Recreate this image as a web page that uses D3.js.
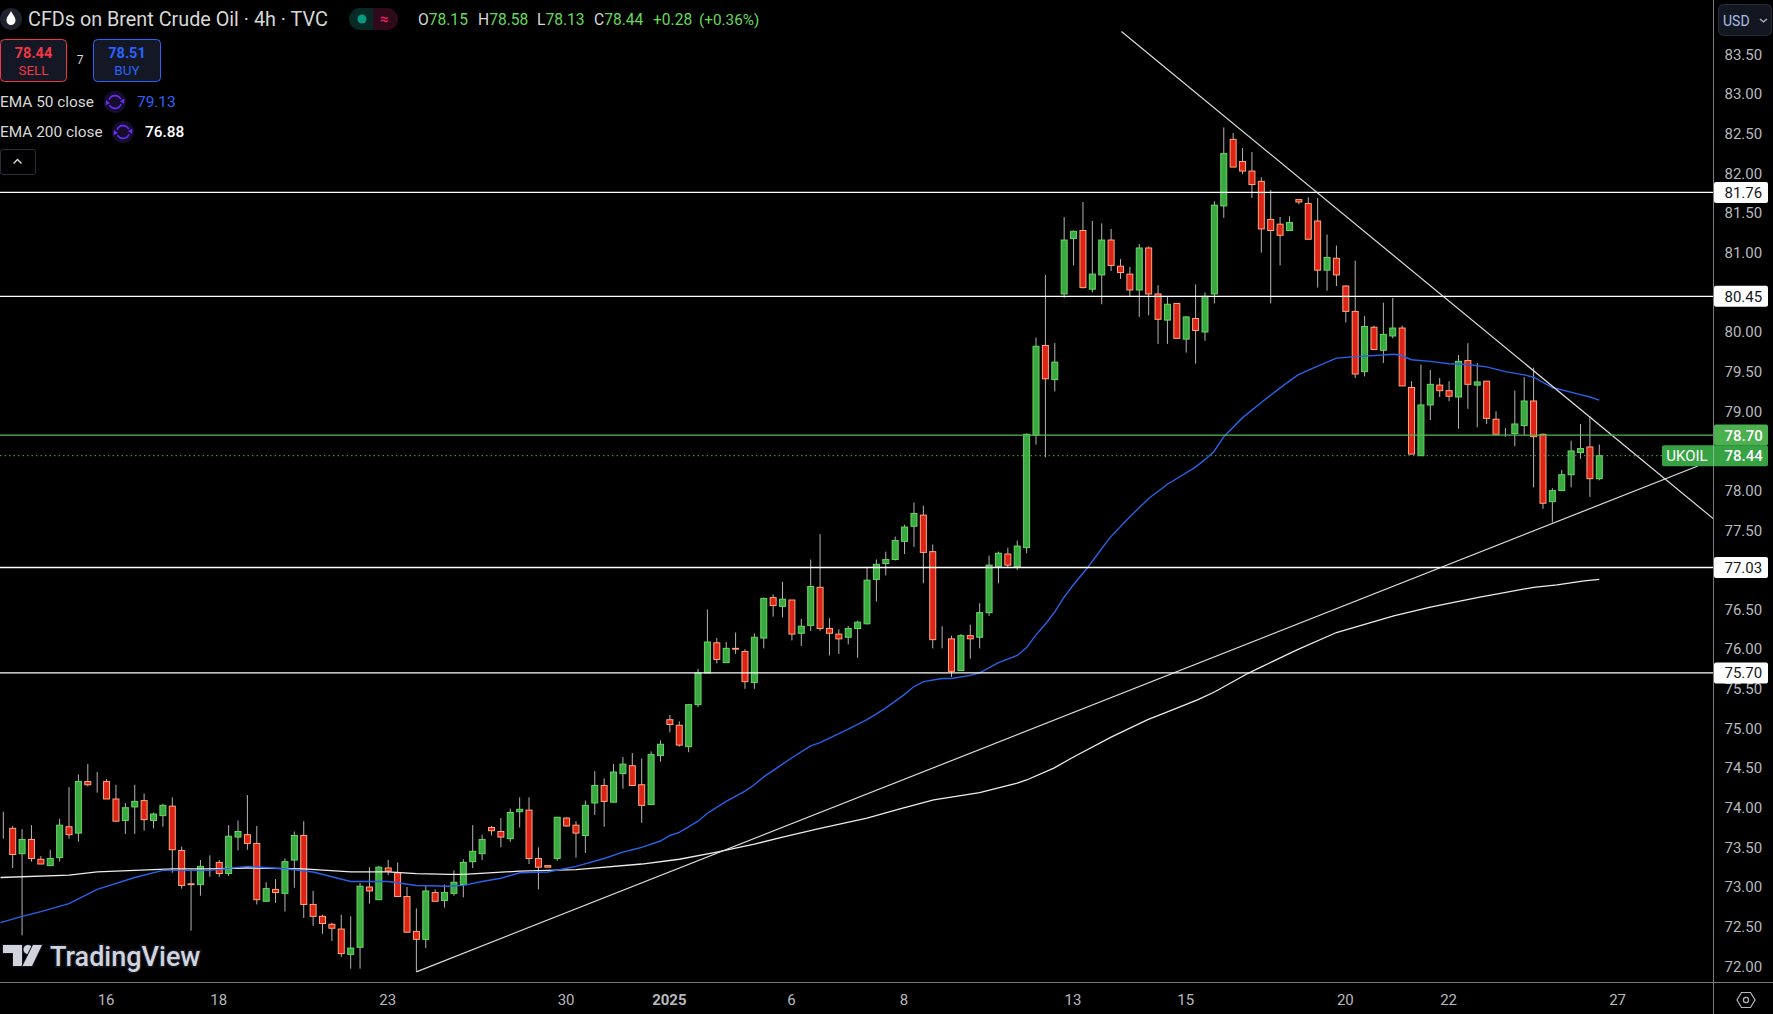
<!DOCTYPE html>
<html>
<head>
<meta charset="utf-8">
<script src="https://cdn.jsdelivr.net/npm/d3@7"></script>
<style>
  html, body { margin: 0; padding: 0; background: #000; overflow: hidden; }
  text { font-family: Roboto, "Noto Sans", sans-serif; }
</style>
</head>
<body>
<div id="chart"></div>
<script>
// candle values, one entry per 4h bar
var opens = [
  73.73,73.74,73.42,73.60,73.35,73.27,73.37,73.76,73.68,74.33,
  74.33,74.33,74.11,73.84,74.01,74.09,73.84,73.90,74.02,73.46,
  73.04,73.03,73.32,73.31,73.17,73.63,73.66,73.55,72.82,72.97,
  72.92,73.34,73.65,72.78,72.63,72.53,72.47,72.15,72.24,73.00,
  72.84,73.24,73.18,72.88,72.44,72.34,72.93,72.83,72.92,73.03,
  73.32,73.42,73.75,73.70,73.61,73.95,73.97,73.36,73.27,73.36,
  73.87,73.78,73.65,74.06,74.28,74.07,74.43,74.53,74.29,74.04,
  74.66,75.11,75.04,74.77,75.30,75.70,76.08,75.83,76.01,75.97,
  75.58,76.14,76.65,76.54,76.62,76.20,76.30,76.78,76.26,76.19,
  76.15,76.26,76.32,76.88,77.08,77.13,77.36,77.55,77.69,77.23,
  76.12,76.13,75.73,76.17,76.15,76.46,77.04,77.20,77.04,77.28,
  78.70,79.83,79.40,80.48,81.18,81.28,80.54,80.72,81.16,80.83,
  80.73,80.53,81.06,80.48,80.15,80.36,79.91,80.17,80.00,80.48,
  81.59,82.43,82.15,82.03,81.90,81.42,81.36,81.28,81.67,81.62,
  81.40,80.78,80.93,80.58,80.26,79.50,80.06,79.77,79.95,80.05,
  79.30,78.44,79.08,79.33,79.26,79.18,79.64,79.33,79.38,78.90,
  78.71,78.72,78.82,79.13,78.71,77.86,78.00,78.20,78.48,78.55,78.15
];
var highs = [
  73.95,73.77,73.73,73.78,73.39,73.47,73.86,74.26,74.42,74.55,
  74.45,74.36,74.29,74.06,74.29,74.18,73.94,74.05,74.13,73.51,
  73.22,73.34,73.40,73.34,73.78,73.84,74.16,73.77,73.06,73.10,
  73.36,73.70,73.83,72.95,72.65,72.55,72.65,72.63,73.05,73.25,
  73.27,73.34,73.31,73.00,72.73,73.01,72.97,73.03,73.21,73.35,
  73.78,73.66,73.77,73.87,73.99,74.13,74.13,73.50,73.27,73.88,
  73.88,73.83,74.09,74.46,74.37,74.55,74.64,74.69,74.62,74.71,
  74.85,75.17,75.09,75.30,75.75,76.50,76.14,76.09,76.21,76.00,
  76.20,76.65,76.69,76.85,76.62,76.38,77.13,77.45,76.39,76.25,
  76.29,76.36,77.04,77.13,77.23,77.42,77.57,77.85,77.81,77.32,
  76.29,76.17,76.19,76.31,76.58,77.18,77.23,77.28,77.37,78.72,
  79.93,80.72,79.86,81.45,81.28,81.64,81.40,81.37,81.30,80.92,
  80.82,81.11,81.08,80.59,80.45,80.36,80.20,80.60,80.50,81.65,
  82.58,82.51,82.32,82.27,81.95,81.79,81.45,81.46,81.67,81.70,
  81.69,81.23,81.09,80.59,80.90,80.20,80.08,80.37,80.43,80.08,
  79.38,79.59,79.52,79.42,79.38,79.71,79.86,79.61,79.38,79.00,
  78.79,79.26,79.43,79.55,78.72,78.03,78.26,78.63,78.84,78.94,78.58
];
var lows = [
  73.61,73.24,72.39,73.32,73.29,73.27,73.32,73.61,73.57,74.27,
  74.19,74.11,73.83,73.67,73.67,73.71,73.74,73.76,73.18,72.98,
  72.45,72.89,73.13,73.13,73.14,73.46,73.47,72.78,72.82,72.80,
  72.69,72.99,72.61,72.51,72.41,72.32,72.12,71.97,71.97,72.79,
  72.84,73.15,72.88,72.43,71.93,72.23,72.82,72.74,72.89,72.87,
  73.24,73.34,73.65,73.50,73.57,73.75,73.29,72.97,73.25,73.33,
  73.76,73.37,73.43,73.91,73.76,74.07,74.24,74.28,73.81,74.04,
  74.58,74.95,74.77,74.70,75.27,75.70,75.82,75.83,75.94,75.50,
  75.50,76.01,76.41,76.40,76.11,76.04,76.23,76.23,75.92,75.94,
  76.06,75.89,76.31,76.60,76.93,77.12,77.20,77.29,76.83,76.01,
  76.01,75.65,75.73,75.88,76.01,76.42,76.83,77.03,77.00,77.21,
  78.58,78.42,79.25,80.43,80.84,80.55,80.50,80.35,80.77,80.67,
  80.45,80.19,80.21,79.85,79.85,79.92,79.74,79.60,79.89,80.36,
  81.44,82.08,81.99,81.69,81.00,80.36,80.84,81.28,81.61,81.17,
  80.56,80.52,80.58,80.12,79.42,79.44,79.78,79.61,79.92,79.32,
  78.46,78.44,78.89,79.18,79.13,78.78,79.03,78.80,78.84,78.71,
  78.68,78.56,78.70,78.04,77.77,77.60,78.00,78.04,78.40,77.92,78.13
];
var closes = [
  73.73,73.41,73.60,73.36,73.29,73.36,73.78,73.66,74.33,74.29,
  74.33,74.11,73.83,74.00,74.08,73.85,73.92,74.03,73.47,73.02,
  73.03,73.26,73.32,73.17,73.64,73.70,73.55,72.84,72.98,72.93,
  73.32,73.65,72.78,72.63,72.54,72.48,72.16,72.23,73.01,72.95,
  73.25,73.20,72.88,72.43,72.34,72.95,72.82,72.93,73.06,73.31,
  73.45,73.60,73.71,73.63,73.94,73.98,73.36,73.25,73.25,73.88,
  73.77,73.68,74.03,74.28,74.08,74.45,74.55,74.28,74.03,74.67,
  74.80,75.05,74.79,75.30,75.70,76.09,75.87,76.01,76.00,75.59,
  76.15,76.64,76.55,76.63,76.19,76.29,76.79,76.26,76.20,76.13,
  76.26,76.34,76.87,77.07,77.13,77.37,77.54,77.71,77.22,76.12,
  76.12,75.72,76.17,76.13,76.46,77.06,77.21,77.06,77.30,78.71,
  79.82,79.41,79.62,81.16,81.27,80.56,80.73,81.16,80.84,80.75,
  80.53,81.06,80.48,80.16,80.35,79.92,80.19,80.02,80.45,81.60,
  82.25,82.08,82.03,81.86,81.30,81.28,81.22,81.38,81.64,81.17,
  80.78,80.94,80.72,80.26,79.47,80.07,79.78,79.97,80.05,79.32,
  78.46,79.08,79.34,79.26,79.19,79.63,79.34,79.37,78.91,78.71,
  78.71,78.84,79.13,78.68,77.84,78.00,78.20,78.50,78.53,78.15,78.44
];

// moving averages, bar number and value pairs
var ema50Bars = [-0.3,2,4,7,10,14,17,22,26,30,33,37,41,44,47.6,49,51,53,55,58,61,64,66,67,68,70,71,72,74,75,77,79,80,81,83,84,86,87,90,92,93.9,95.9,96.9,98,100,101,103,104,106,108,109,110,111.1,112,112.9,113.9,115.5,117.9,120,122,124,126.9,128,129,130,132,134.3,136.4,137.9,139.2,142,144,147,148,148.8,150,152,154,156,158,160,162,163,165,168,169,170];
var ema50Vals = [72.55,72.63,72.69,72.79,72.97,73.12,73.21,73.21,73.26,73.23,73.19,73.07,73.07,73.02,73.01,73.02,73.07,73.11,73.18,73.19,73.26,73.36,73.44,73.47,73.50,73.58,73.65,73.69,73.83,73.93,74.08,74.21,74.29,74.39,74.55,74.63,74.78,74.82,74.99,75.11,75.25,75.42,75.52,75.59,75.63,75.63,75.67,75.70,75.83,75.92,76.02,76.18,76.33,76.47,76.64,76.80,77.03,77.41,77.67,77.90,78.08,78.29,78.39,78.50,78.68,78.92,79.14,79.33,79.46,79.53,79.67,79.69,79.71,79.72,79.71,79.65,79.63,79.60,79.59,79.56,79.50,79.46,79.43,79.30,79.21,79.18,79.14];
var ema200Bars = [-0.3,7,10,14,18,22,26,32,37,41,44,47.6,49,55,61,68,72,76,80,83,87,92,95.6,99.1,104,108,109,111.9,114,118,121.9,124,127.2,129,132.5,133.9,137.8,142,148.1,152,157,163,165.5,168.4,170];
var ema200Vals = [73.12,73.15,73.19,73.21,73.23,73.23,73.24,73.23,73.19,73.19,73.17,73.16,73.16,73.20,73.22,73.29,73.35,73.44,73.54,73.63,73.74,73.87,73.99,74.10,74.19,74.31,74.35,74.50,74.64,74.89,75.11,75.21,75.36,75.46,75.69,75.77,75.99,76.21,76.42,76.53,76.65,76.78,76.81,76.86,76.88];

// hand drawn levels and trend lines
var levels = [81.76, 80.45, 77.03, 75.70];
var trendUpBars = [44, 180.5];
var trendUpVals = [71.93, 78.31];
var trendDownBars = [119.1, 182.2];
var trendDownVals = [83.79, 77.64];
var resistance = 78.70;
var lastPrice = 78.44;

// axis labels, 77.00, 78.50 and 80.50 sit behind the price tags so they never show
var priceTicks = [72, 72.5, 73, 73.5, 74, 74.5, 75, 75.5, 76, 76.5, 77.5, 78, 79, 79.5, 80, 81, 81.5, 82, 82.5, 83, 83.5];
var dateBars = [11, 23, 41, 60, 71, 84, 96, 114, 126, 143, 154, 172];
var dateLabels = ["16", "18", "23", "30", "2025", "6", "8", "13", "15", "20", "22", "27"];

var svgWidth = 1773;
var svgHeight = 1014;
var plotRight = 1713.5;
var plotBottom = 982.5;

var svg = d3.select("#chart")
  .append("svg")
  .attr("width", svgWidth)
  .attr("height", svgHeight)
  .style("display", "block");

var xScale = d3.scaleLinear().domain([0, 170]).range([3.3, 1599.3]);
var yScale = d3.scaleLinear().domain([72, 83.5]).range([966.3, 54.5]);

svg.append("defs").append("clipPath").attr("id", "plot")
  .append("rect")
  .attr("width", plotRight)
  .attr("height", plotBottom);

var plot = svg.append("g").attr("clip-path", "url(#plot)");

// candles, wicks first so bodies sit on top
var bars = d3.range(opens.length);
var candles = plot.selectAll("g.candle").data(bars).enter().append("g").attr("class", "candle");

candles.append("line")
  .attr("x1", d => xScale(d))
  .attr("x2", d => xScale(d))
  .attr("y1", d => yScale(highs[d]))
  .attr("y2", d => yScale(lows[d]))
  .attr("stroke", "#b4b4b4")
  .attr("stroke-width", 1);

candles.append("rect")
  .attr("x", d => xScale(d) - 3)
  .attr("width", 6)
  .attr("y", d => yScale(Math.max(opens[d], closes[d])))
  .attr("height", d => Math.abs(yScale(opens[d]) - yScale(closes[d])))
  .attr("fill", d => closes[d] >= opens[d] ? "#3aa843" : "#dd2217")
  .attr("stroke", d => closes[d] >= opens[d] ? "#66d95c" : "#ffa877")
  .attr("stroke-width", 1);

// moving averages
var emaLine = d3.line().x(d => xScale(d[0])).y(d => yScale(d[1]));

plot.append("path")
  .attr("d", emaLine(d3.zip(ema200Bars, ema200Vals)))
  .attr("fill", "none")
  .attr("stroke", "#ececec")
  .attr("stroke-width", 1.3);

plot.append("path")
  .attr("d", emaLine(d3.zip(ema50Bars, ema50Vals)))
  .attr("fill", "none")
  .attr("stroke", "#2962e8")
  .attr("stroke-width", 1.4);

// trend lines
[[trendUpBars, trendUpVals], [trendDownBars, trendDownVals]].forEach(function(t){
  plot.append("path")
    .attr("d", emaLine(d3.zip(t[0], t[1])))
    .attr("fill", "none")
    .attr("stroke", "#dcdcdc")
    .attr("stroke-width", 1.2);
});

// horizontal levels
plot.selectAll("line.level").data(levels).enter().append("line")
  .attr("class", "level")
  .attr("x1", 0)
  .attr("x2", plotRight)
  .attr("y1", d => yScale(d))
  .attr("y2", d => yScale(d))
  .attr("stroke", "#fff")
  .attr("stroke-width", 1.3);

plot.append("line")
  .attr("x1", 0)
  .attr("x2", plotRight)
  .attr("y1", yScale(resistance))
  .attr("y2", yScale(resistance))
  .attr("stroke", "#55b858")
  .attr("stroke-width", 1.2);

plot.append("line")
  .attr("x1", 0)
  .attr("x2", plotRight)
  .attr("y1", yScale(lastPrice))
  .attr("y2", yScale(lastPrice))
  .attr("stroke", "#4caf50")
  .attr("stroke-width", 1)
  .attr("stroke-dasharray", "1.5 3");

// axes
var rightAxis = d3.axisRight(yScale)
  .tickValues(priceTicks)
  .tickFormat(d3.format(".2f"))
  .tickSize(0)
  .tickPadding(11);

var yAxis = svg.append("g")
  .attr("transform", `translate(${plotRight}, 0)`)
  .call(rightAxis);
yAxis.select(".domain").remove();
yAxis.selectAll("text")
  .attr("fill", "#b8b9bf")
  .attr("font-size", 15)
  .attr("font-family", "Roboto");

var bottomAxis = d3.axisBottom(xScale)
  .tickValues(dateBars)
  .tickFormat((d, i) => dateLabels[i])
  .tickSize(0)
  .tickPadding(11.5);

var xAxis = svg.append("g")
  .attr("transform", `translate(-1, ${plotBottom})`)
  .call(bottomAxis);
xAxis.select(".domain").remove();
xAxis.selectAll("text")
  .attr("fill", "#b8b9bf")
  .attr("font-size", 15)
  .attr("font-family", "Roboto")
  .attr("font-weight", d => d === 71 ? 700 : 400);

svg.append("line")
  .attr("x1", plotRight).attr("x2", plotRight)
  .attr("y1", 0).attr("y2", svgHeight)
  .attr("stroke", "#7a7a7a");
svg.append("line")
  .attr("x1", 0).attr("x2", svgWidth)
  .attr("y1", plotBottom).attr("y2", plotBottom)
  .attr("stroke", "#7a7a7a");

// price tags on the axis
function priceTag(price, fill, color, weight){
  var y = yScale(price);
  svg.append("rect")
    .attr("x", plotRight + 0.5)
    .attr("y", y - 10.5)
    .attr("width", 54)
    .attr("height", 21)
    .attr("rx", 2)
    .attr("fill", fill);
  svg.append("text")
    .attr("x", plotRight + 11)
    .attr("y", y)
    .attr("dy", "0.37em")
    .attr("font-size", 15)
    .attr("font-weight", weight)
    .attr("fill", color)
    .text(d3.format(".2f")(price));
}
levels.forEach(function(d){ priceTag(d, "#fff", "#131722", 400); });
priceTag(resistance, "#4caf50", "#fff", 500);

svg.append("rect")
  .attr("x", 1662)
  .attr("y", yScale(lastPrice) - 10.5)
  .attr("width", 106)
  .attr("height", 21)
  .attr("rx", 2)
  .attr("fill", "#37a244");
svg.append("line")
  .attr("x1", plotRight).attr("x2", plotRight)
  .attr("y1", yScale(lastPrice) - 10.5).attr("y2", yScale(lastPrice) + 10.5)
  .attr("stroke", "#7bbf82");
svg.append("text")
  .attr("x", 1687)
  .attr("y", yScale(lastPrice))
  .attr("dy", "0.37em")
  .attr("text-anchor", "middle")
  .attr("font-size", 15)
  .attr("fill", "#fff")
  .text("UKOIL");
svg.append("text")
  .attr("x", plotRight + 11)
  .attr("y", yScale(lastPrice))
  .attr("dy", "0.37em")
  .attr("font-size", 15)
  .attr("font-weight", 500)
  .attr("fill", "#fff")
  .text(d3.format(".2f")(lastPrice));

// small helper for the legend texts
function label(x, y, str, size, color, anchor, weight){
  return svg.append("text")
    .attr("x", x)
    .attr("y", y)
    .attr("dy", "0.35em")
    .attr("font-size", size)
    .attr("fill", color)
    .attr("text-anchor", anchor || "start")
    .attr("font-weight", weight || 400)
    .text(str);
}

// title row
svg.append("circle").attr("cx", 11).attr("cy", 19).attr("r", 11).attr("fill", "#1e222d");
svg.append("path")
  .attr("d", "M11 11 C13 15 15.5 17 15.5 20.5 A4.5 4.5 0 0 1 6.5 20.5 C6.5 17 9 15 11 11 Z")
  .attr("fill", "#fff");
label(28, 19.5, "CFDs on Brent Crude Oil · 4h · TVC", 19.8, "#d8d8d8");

svg.append("path")
  .attr("d", "M373 8 H360 A11 11 0 0 0 360 30 H373 Z")
  .attr("fill", "#082a26");
svg.append("path")
  .attr("d", "M373 8 H387 A11 11 0 0 1 387 30 H373 Z")
  .attr("fill", "#2e0a1a");
svg.append("circle").attr("cx", 362).attr("cy", 19).attr("r", 4.5).attr("fill", "#089981");
label(384, 19, "≈", 15, "#e91e63", "middle", 700);

var ohlcX = [418, 478, 537, 594];
var ohlcLetters = ["O", "H", "L", "C"];
var ohlcValues = ["78.15", "78.58", "78.13", "78.44"];
ohlcX.forEach(function(x, i){
  var t = label(x, 19.5, ohlcLetters[i], 15.6, "#d8d8d8");
  t.append("tspan").attr("fill", "#66d95c").text(ohlcValues[i]);
});
label(653, 19.5, "+0.28", 15.6, "#66d95c");
label(699, 19.5, "(+0.36%)", 15.3, "#66d95c");

// sell and buy boxes
svg.append("rect").attr("x", 0.5).attr("y", 39.5).attr("width", 66).attr("height", 42).attr("rx", 4)
  .attr("fill", "#141824").attr("stroke", "#f23645");
label(33.5, 52.5, "78.44", 14.5, "#f23645", "middle", 700);
label(33.5, 70, "SELL", 13.5, "#f23645", "middle");
label(80, 59.5, "7", 12, "#d8d8d8", "middle");
svg.append("rect").attr("x", 93.5).attr("y", 39.5).attr("width", 67).attr("height", 42).attr("rx", 4)
  .attr("fill", "#141824").attr("stroke", "#2962ff");
label(127, 52.5, "78.51", 14.5, "#2962ff", "middle", 700);
label(127, 70, "BUY", 13.5, "#2962ff", "middle");

// refresh icon for the indicator rows
function refreshIcon(cx, cy){
  svg.append("circle").attr("cx", cx).attr("cy", cy).attr("r", 11).attr("fill", "#150d2c");
  var arc = d3.arc().innerRadius(5.6).outerRadius(7.2);
  var g = svg.append("g").attr("transform", `translate(${cx}, ${cy})`).attr("fill", "#6a2cf5");
  g.append("path").attr("d", arc({startAngle: -1.2, endAngle: 1.1}));
  g.append("path").attr("d", arc({startAngle: 1.9, endAngle: 4.2}));
  g.append("path").attr("d", "M5 -1 L9.5 -3.5 L9 2 Z");
  g.append("path").attr("d", "M-5 1 L-9.5 3.5 L-9 -2 Z");
}
label(0, 102, "EMA 50 close", 15.4, "#d8d8d8");
refreshIcon(115, 102);
label(137, 102, "79.13", 15.4, "#2962ff");
label(0, 132, "EMA 200 close", 15.4, "#d8d8d8");
refreshIcon(123, 132);
label(145, 132, "76.88", 15.4, "#fff", "start", 500);

// collapse button
svg.append("rect").attr("x", 0.5).attr("y", 149.5).attr("width", 35).attr("height", 25).attr("rx", 2)
  .attr("fill", "#000").attr("stroke", "#2a2e39");
svg.append("path").attr("d", "M13.5 163.5 L17.5 159.5 L21.5 163.5")
  .attr("fill", "none").attr("stroke", "#e0e0e0").attr("stroke-width", 1.4);

// currency button
svg.append("rect").attr("x", 1718.5).attr("y", 4.5).attr("width", 53).attr("height", 31).attr("rx", 5)
  .attr("fill", "#131722").attr("stroke", "#2a2e39");
label(1723, 21, "USD", 14, "#a9bde6");
svg.append("path").attr("d", "M1760 19 L1763.5 22 L1767 19")
  .attr("fill", "none").attr("stroke", "#b8b9bf").attr("stroke-width", 1.3);

// settings gear at the corner
svg.append("path")
  .attr("d", "M1737 1000 L1741.5 992.5 H1750.5 L1755 1000 L1750.5 1007.5 H1741.5 Z")
  .attr("fill", "none").attr("stroke", "#b8b9bf").attr("stroke-width", 1.2);
svg.append("circle").attr("cx", 1746).attr("cy", 1000).attr("r", 2.6)
  .attr("fill", "none").attr("stroke", "#b8b9bf").attr("stroke-width", 1.2);

// watermark
var logo = svg.append("g")
  .attr("transform", "translate(3, 945)")
  .attr("fill", "#d1d4dc")
  .attr("stroke", "#131722")
  .attr("stroke-width", 2)
  .attr("paint-order", "stroke");
logo.append("path").attr("d", "M0 0 H19 V21 H10 V8 H0 Z");
logo.append("circle").attr("cx", 25).attr("cy", 4.5).attr("r", 4.5);
logo.append("path").attr("d", "M30 0 H39 L29 21 H19.5 Z");

svg.append("text")
  .attr("x", 50)
  .attr("y", 965.5)
  .attr("font-size", 27)
  .attr("font-weight", 500)
  .attr("fill", "#d1d4dc")
  .attr("stroke", "#131722")
  .attr("stroke-width", 3)
  .attr("paint-order", "stroke")
  .text("TradingView");
</script>
</body>
</html>
